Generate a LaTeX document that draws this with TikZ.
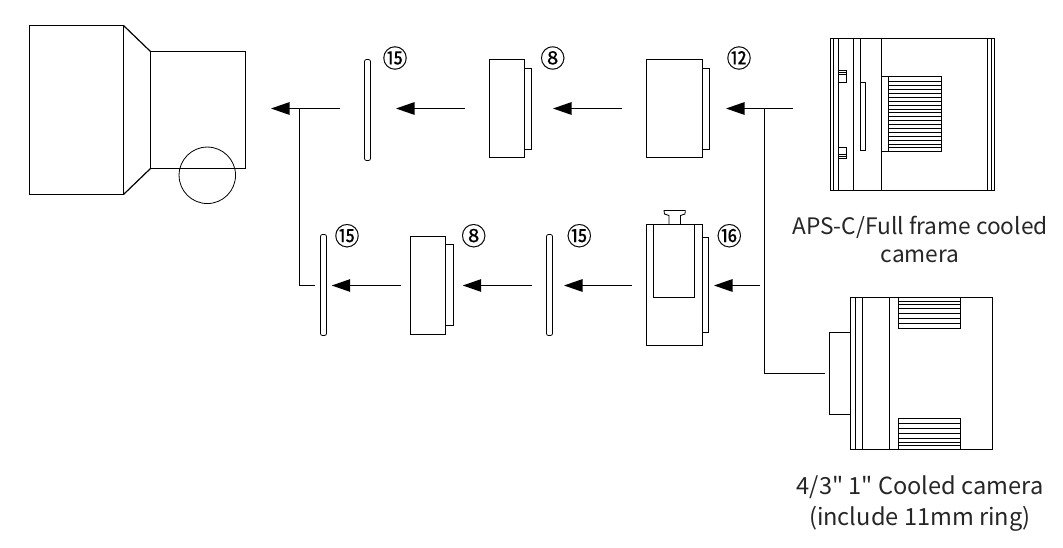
\documentclass[tikz,border=0pt]{standalone}
\usepackage{fontspec}
\newfontfamily\capfont{Noto Sans CJK SC}
\newfontfamily\numfont[FakeBold=0.15]{Noto Sans CJK SC}
\usetikzlibrary{arrows.meta, positioning}
\begin{document}
\begin{tikzpicture}[x=1pt, y=-1pt, >={Triangle[length=18.5pt,width=12.5pt]}, line width=1.2pt]
    % node styles
    \tikzset{
        part/.style={rectangle, draw, inner sep=0pt, outer sep=0pt},
        ring/.style={part, rounded corners=2pt, minimum width=6pt, minimum height=101pt, line width=0.8pt},
        num/.style={inner sep=0pt, font=\numfont\fontsize{25}{25}\selectfont},
        camtext/.style={inner sep=0pt, align=center, text=black!85, font=\capfont\fontsize{22.7}{28}\selectfont},
        flow/.style={->}
    }
    \useasboundingbox (0,0) rectangle (1063,548);
    % telescope
    \node[part, minimum width=94pt, minimum height=169pt] (tube) at (76.5,110) {};
    \node[part, minimum width=95pt, minimum height=117pt] (focuser) at (198,110) {};
    \node[circle, draw, minimum size=56.5pt, inner sep=0pt, line width=0.8pt] (knob) at (207.3,175.3) {};
    \draw (tube.north east) -- (focuser.north west);
    \draw (tube.south east) -- (focuser.south west);
    % upper row, right to left
    \node[part, minimum width=56pt, minimum height=98pt] (body12) at (674.5,108.5) {};
    \node[part, right=0pt of body12, yshift=-0.5pt, minimum width=7pt, minimum height=81pt] (tab12) {};
    \node[part, left=115pt of body12, yshift=-0.5pt, minimum width=7pt, minimum height=81pt] (tab8up) {};
    \node[part, left=0pt of tab8up, yshift=0.5pt, minimum width=35pt, minimum height=98pt] (body8up) {};
    \node[ring, left=119pt of body8up, yshift=-1.5pt] (ring15up) {};
    % lower row, right to left
    \node[part, minimum width=56pt, minimum height=121pt] (body16) at (674.5,285) {};
    \node[part, right=0pt of body16, minimum width=6pt, minimum height=95pt] (tab16) {};
    \node[part, minimum width=41pt, minimum height=73pt, anchor=north, xshift=-0.5pt] (slot16) at (body16.north) {};
    \node[ring, left=94pt of body16] (ring15mid) {};
    \node[part, left=93pt of ring15mid, minimum width=8pt, minimum height=81pt] (tab8low) {};
    \node[part, left=0pt of tab8low, yshift=-0.5pt, minimum width=35pt, minimum height=98pt] (body8low) {};
    \node[ring, left=84pt of body8low, yshift=0.5pt] (ring15low) {};
    % clamp screw on top of the lower adapter
    \draw[line width=0.8pt] (669,224.5) -- (669,215.5) -- (664.5,214) -- (664,210.5) -- (685.3,210.5) -- (685,214) -- (680.5,215.5) -- (680.5,224.5);
    % numbers
    \node[num] (n15up) at (395,58) {⑮};
    \node[num] (n8up) at (552.7,58) {⑧};
    \node[num] (n12) at (739,58) {⑫};
    \node[num] (n16) at (729.3,235.7) {⑯};
    \node[num] (n15mid) at (579.3,235.7) {⑮};
    \node[num] (n8low) at (473.7,235.7) {⑧};
    \node[num] (n15low) at (347,235.7) {⑮};
    % APS-C camera
    \node[part, minimum width=164pt, minimum height=152pt] (camup) at (912.5,114.5) {};
    \foreach \x in {833.5,838.5,853.5,881.5,987.5,991.5}
        \draw (\x,38.5) -- (\x,190.5);
    \draw (860.5,38.5) -- (860.5,150.5) -- (865.5,150.5) -- (865.5,82.5) -- (860.5,82.5);
    \draw (838.5,70.5) rectangle (846.5,82.5);
    \draw[line width=0.8pt] (838.5,72.5) -- (846.5,72.5) (838.5,74.5) -- (846.5,74.5);
    \draw (838.5,147.5) rectangle (846.5,158.5);
    \draw[line width=0.8pt] (838.5,154.5) -- (846.5,154.5) (838.5,156.5) -- (846.5,156.5);
    \draw (881.5,76.5) rectangle (941.5,151.5);
    \draw (888.5,76.5) -- (888.5,151.5);
    \foreach \y in {81.5,85.5,89.5,93.5,97.5,101.5,105.5,109.5,112.5,116.5,120.5,124.5,128.5,132.5,136.5,140.5,144.5,147.5}
        \draw[line width=0.9pt] (888.5,\y) -- (941.5,\y);
    \node[camtext] (capup) at (920,239.5) {APS-C/Full frame cooled\\camera};
    % small cooled camera
    \node[part, minimum width=142pt, minimum height=152pt] (camlow) at (921.5,373.5) {};
    \node[part, left=0pt of camlow, minimum width=21pt, minimum height=82pt] (nose) {};
    \foreach \x in {855.5,862.5,889.5}
        \draw (\x,297.5) -- (\x,449.5);
    \draw (898.5,297.5) rectangle (960.5,328.5);
    \foreach \y in {301.5,304.5,308.5,313.5,318.5,323.5}
        \draw[line width=0.9pt] (898.5,\y) -- (960.5,\y);
    \draw (898.5,418.5) rectangle (960.5,449.5);
    \foreach \y in {423.5,428.5,433.5,438.5,442.5,445.5}
        \draw[line width=0.9pt] (898.5,\y) -- (960.5,\y);
    \node[camtext, font=\capfont\fontsize{23.6}{28}\selectfont] (caplow) at (920,503.5) {4/3" 1" Cooled camera\\[3pt](include 11mm ring)};
    % free ends of the light path
    \coordinate (outup) at (793,108.5);
    \coordinate (teeright) at (764.5,108.5);
    \coordinate (outnose) at (825,373.5);
    \coordinate (outmid) at (760,285.5);
    \coordinate (outleft) at (340,108.5);
    \coordinate (teeleft) at (299.5,108.5);
    \coordinate (outlow) at (315,285.5);
    % arrows
    \draw[flow, shorten >=16.5pt] (outup) -- (outup -| tab12.east);
    \draw (teeright) |- (outnose);
    \draw[flow, shorten >=5.5pt] (outmid) -- (outmid -| tab16.east);
    \draw[flow, shorten <=25pt, shorten >=21.5pt] (outup -| body12.west) -- (outup -| tab8up.east);
    \draw[flow, shorten <=24.5pt, shorten >=25.5pt] (outup -| body8up.west) -- (outup -| ring15up.east);
    \draw[flow, shorten >=25.5pt] (outleft) -- (outleft -| focuser.east);
    \draw[flow, shorten <=14.5pt, shorten >=11.5pt] (outmid -| body16.west) -- (outmid -| ring15mid.east);
    \draw[flow, shorten <=14.5pt, shorten >=9.2pt] (outmid -| ring15mid.west) -- (outmid -| tab8low.east);
    \draw[flow, shorten <=9.5pt, shorten >=5.2pt] (outmid -| body8low.west) -- (outmid -| ring15low.east);
    \draw (teeleft) |- (outlow);
\end{tikzpicture}
\end{document}
